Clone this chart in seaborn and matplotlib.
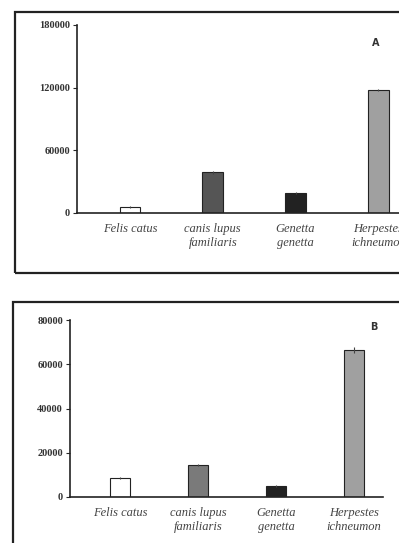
import matplotlib
matplotlib.use("Agg")
import matplotlib.pyplot as plt
import matplotlib.patches as mpatches
import seaborn as sns
import pandas as pd

especies = ["Felis catus", "canis lupus\nfamiliaris", "Genetta\ngenetta", "Herpestes\nichneumon"]
cores = ["#ffffff", "#555555", "#222222", "#a0a0a0"]
cores_b = ["#ffffff", "#7a7a7a", "#222222", "#a0a0a0"]

valores_a = [6000, 39000, 19000, 118000]
erros_a = [800, 1200, 900, 1200]
valores_b = [8500, 14500, 5000, 66500]
erros_b = [400, 600, 400, 1200]

ticks_a = [0, 60000, 120000, 180000]
ticks_b = [0, 20000, 40000, 60000, 80000]

sns.set_style("white")
plt.rcParams["font.family"] = ["Liberation Serif", "DejaVu Serif"]

W, H = 399, 543
fig = plt.figure(figsize=(W / 100, H / 100), dpi=100)

# caixas externas de cada painel
fig.patches.append(mpatches.Rectangle((15 / W, 1 - 273 / H), 390 / W, 261 / H,
                                      transform=fig.transFigure, fill=False,
                                      lw=1.6, ec="#222222"))
fig.patches.append(mpatches.Rectangle((13 / W, 1 - 560 / H), 392 / W, 258 / H,
                                      transform=fig.transFigure, fill=False,
                                      lw=1.6, ec="#222222"))


def painel(ax, valores, erros, paleta, ticks, letra, xlim, lx, ly):
    tabela = pd.DataFrame({"especie": especies, "valor": valores})
    sns.barplot(data=tabela, x="especie", y="valor", hue="especie",
                palette=paleta, edgecolor="#222222", linewidth=0.8,
                width=0.25, legend=False, ax=ax, errorbar=None)
    ax.errorbar(range(len(valores)), valores, yerr=erros, fmt="none",
                ecolor="#444444", elinewidth=0.8, capsize=0)
    ax.set_ylim(0, ticks[-1])
    ax.set_xlim(*xlim)
    ax.set_yticks(ticks)
    ax.set_yticklabels([str(t) for t in ticks], fontsize=7.5, fontweight="bold",
                       color="#333333")
    ax.set_xlabel("")
    ax.set_ylabel("")
    ax.tick_params(axis="y", length=3, width=0.8, direction="out", pad=2, left=True)
    ax.tick_params(axis="x", length=0, pad=7)
    for lab in ax.get_xticklabels():
        lab.set_fontstyle("italic")
        lab.set_fontsize(9)
        lab.set_color("#444444")
    sns.despine(ax=ax)
    ax.spines["left"].set_linewidth(1.2)
    ax.spines["bottom"].set_linewidth(1.2)
    ax.spines["left"].set_color("#222222")
    ax.spines["bottom"].set_color("#222222")
    ax.set_facecolor("none")
    fig.text(lx / W, 1 - ly / H, letra, fontsize=7, fontweight="bold",
             ha="center", va="center", family="DejaVu Sans", color="#333333")


ax_a = fig.add_axes([77 / W, 1 - 213 / H, (399 - 77) / W, (213 - 25) / H])
painel(ax_a, valores_a, erros_a, cores, ticks_a, "A", (-0.64, 3.25), 376, 43)

ax_b = fig.add_axes([70 / W, 1 - 497 / H, (383 - 70) / W, (497 - 320) / H])
painel(ax_b, valores_b, erros_b, cores_b, ticks_b, "B", (-0.64, 3.37), 374, 327)

fig.savefig("out.png", dpi=100)
